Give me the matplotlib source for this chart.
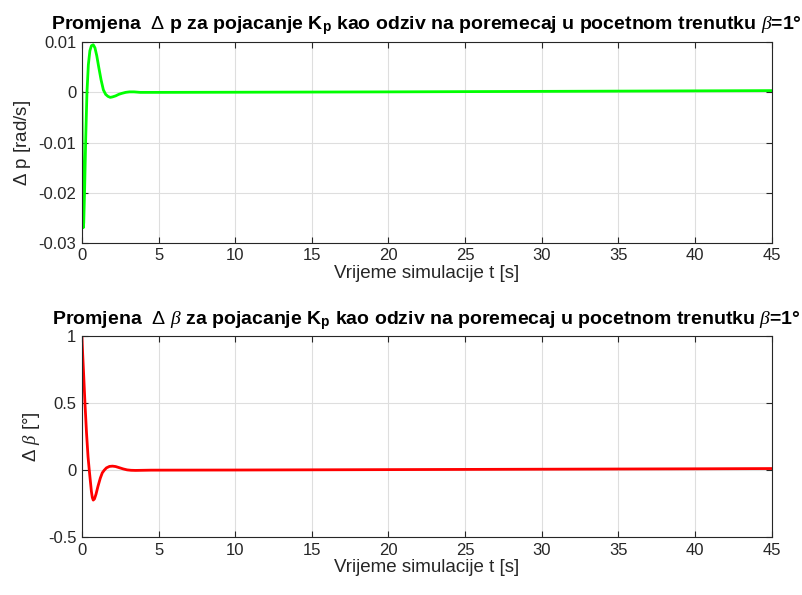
import matplotlib
matplotlib.use('Agg')
import matplotlib.pyplot as plt

# odziv delta p [rad/s]
t_p = [0, 0.03, 0.06, 0.09, 0.12, 0.18, 0.25, 0.33, 0.42, 0.52, 0.62, 0.74,
       0.85, 0.97, 1.1, 1.25, 1.4, 1.55, 1.7, 1.85, 2.0, 2.2, 2.4, 2.6, 2.85,
       3.1, 3.4, 3.8, 5, 10, 20, 30, 40, 45]
dp = [0, -0.012, -0.022, -0.027, -0.026, -0.019, -0.009, 0.0, 0.0055, 0.0083,
      0.0093, 0.0095, 0.0089, 0.0073, 0.0050, 0.0025, 0.0005, -0.0004, -0.0008,
      -0.0010, -0.0009, -0.0007, -0.0004, -0.0002, 0.0, 0.0001, 0.0001, 0.0,
      0.0, 0.00003, 0.0001, 0.0002, 0.0003, 0.00035]

# odziv delta beta [deg]
t_b = [0, 0.05, 0.1, 0.2, 0.3, 0.4, 0.48, 0.55, 0.62, 0.68, 0.74, 0.82, 0.92,
       1.05, 1.2, 1.33, 1.46, 1.6, 1.8, 2.0, 2.2, 2.45, 2.7, 2.95, 3.2, 3.5,
       4.0, 4.5, 10, 20, 30, 40, 45]
db = [1.0, 0.87, 0.75, 0.5, 0.28, 0.1, 0.0, -0.08, -0.16, -0.205, -0.224,
      -0.215, -0.18, -0.12, -0.06, -0.02, 0.0, 0.017, 0.028, 0.03, 0.027,
      0.018, 0.009, 0.002, -0.001, -0.002, -0.001, 0.0, 0.001, 0.004, 0.007,
      0.010, 0.012]

xticks = list(range(0, 50, 5))
yticks_p = [-0.03, -0.02, -0.01, 0, 0.01]
yticks_b = [-0.5, 0, 0.5, 1]

plt.rcParams['font.family'] = ['Liberation Sans', 'DejaVu Sans']
plt.rcParams['mathtext.fontset'] = 'custom'
plt.rcParams['mathtext.rm'] = 'Liberation Sans'
plt.rcParams['mathtext.it'] = 'Liberation Serif:italic'
plt.rcParams['mathtext.bf'] = 'Liberation Sans:bold'

fig = plt.figure(figsize=(8.03, 5.95), dpi=100)
ax1 = fig.add_axes([0.102, 0.592, 0.859, 0.337])
ax2 = fig.add_axes([0.102, 0.0975, 0.859, 0.337])


def matlab_style(ax, yticks, ylabels):
    ax.set_xlim(0, 45)
    ax.set_xticks(xticks)
    ax.set_xticklabels([str(x) for x in xticks])
    ax.set_yticks(yticks)
    ax.set_yticklabels(ylabels)
    ax.set_ylim(yticks[0], yticks[-1])
    ax.grid(True, color='#dedede', linewidth=0.8)
    ax.set_axisbelow(True)
    ax.tick_params(direction='in', length=4, width=0.8, colors='#262626',
                   labelsize=12, top=True, right=True, pad=4)
    for s in ax.spines.values():
        s.set_color('#262626')
        s.set_linewidth(0.8)
    ax.set_xlabel('Vrijeme simulacije t [s]', fontsize=13.5, color='#262626',
                  labelpad=1)


ax1.plot(t_p, dp, color='#00ff00', linewidth=2)
matlab_style(ax1, yticks_p, ['-0.03', '-0.02', '-0.01', '0', '0.01'])
ax1.set_ylabel(r'$\Delta$ p [rad/s]', fontsize=13.5, color='#262626')
ax1.set_title(r'Promjena  $\Delta$ p za pojacanje K$_\mathbf{p}$ kao odziv na '
              r'poremecaj u pocetnom trenutku $\beta$=1°',
              fontsize=14, fontweight='bold', pad=9)

ax2.plot(t_b, db, color='#ff0000', linewidth=2)
matlab_style(ax2, yticks_b, ['-0.5', '0', '0.5', '1'])
ax2.set_ylabel(r'$\Delta$ $\beta$ [°]', fontsize=13.5, color='#262626')
ax2.set_title(r'Promjena  $\Delta$ $\beta$ za pojacanje K$_\mathbf{p}$ kao odziv na '
              r'poremecaj u pocetnom trenutku $\beta$=1°',
              fontsize=14, fontweight='bold', pad=9)

fig.savefig('out.png', dpi=100)
